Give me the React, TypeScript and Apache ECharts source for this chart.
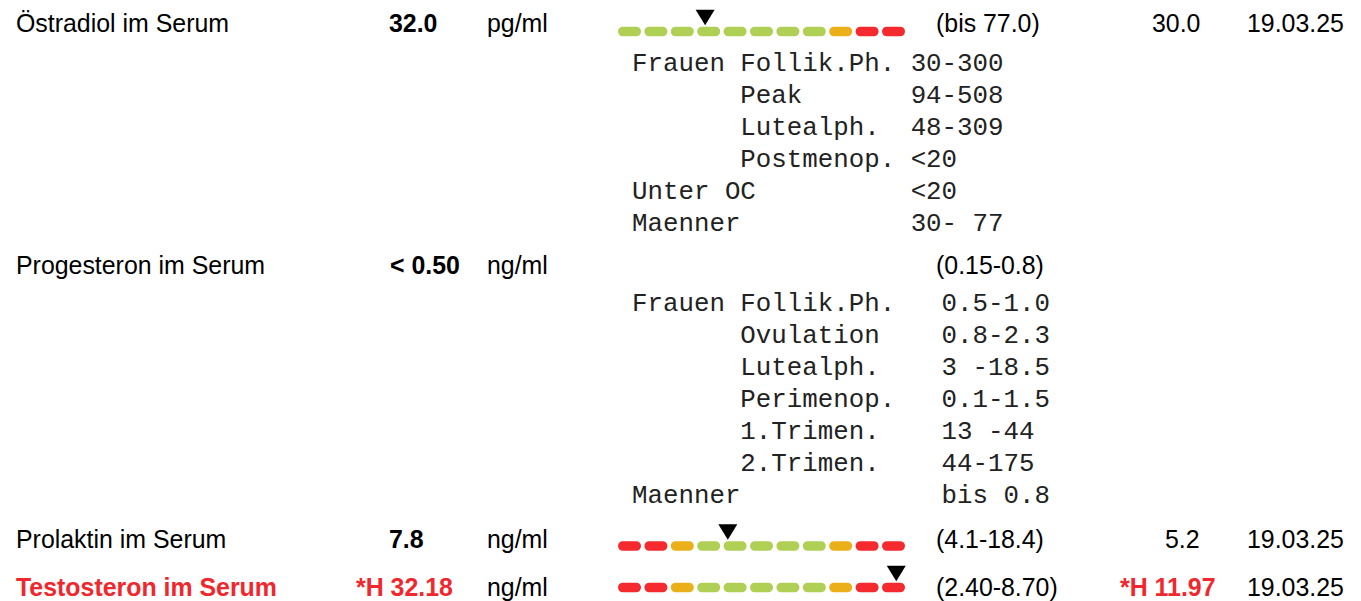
import React, { useEffect, useRef } from "react";
import * as echarts from "echarts";

// ---- data ----
const testNames = ["Östradiol im Serum", "Progesteron im Serum", "Prolaktin im Serum", "Testosteron im Serum"];
const results = ["32.0", "< 0.50", "7.8", "*H 32.18"];
const units = ["pg/ml", "ng/ml", "ng/ml", "ng/ml"];
const refRanges = ["(bis 77.0)", "(0.15-0.8)", "(4.1-18.4)", "(2.40-8.70)"];
const previousResults = ["30.0", "", "5.2", "*H 11.97"];
const previousDates = ["19.03.25", "", "19.03.25", "19.03.25"];
const flagged = [false, false, false, true];

const estradiolRefLines = [
  "Frauen Follik.Ph. 30-300",
  "       Peak       94-508",
  "       Lutealph.  48-309",
  "       Postmenop. <20",
  "Unter OC          <20",
  "Maenner           30- 77",
];
const progesteronRefLines = [
  "Frauen Follik.Ph.   0.5-1.0",
  "       Ovulation    0.8-2.3",
  "       Lutealph.    3 -18.5",
  "       Perimenop.   0.1-1.5",
  "       1.Trimen.    13 -44",
  "       2.Trimen.    44-175",
  "Maenner             bis 0.8",
];

// gauges: segment colour codes (G green, O orange, R red) and marker position in segment units
const estradiolSegments = ["G", "G", "G", "G", "G", "G", "G", "G", "O", "R", "R"];
const prolaktinSegments = ["R", "R", "O", "G", "G", "G", "G", "G", "O", "R", "R"];
const testosteronSegments = ["R", "R", "O", "G", "G", "G", "G", "G", "O", "R", "R"];
const markerPositions = [3.3, 4.16, 10.54];

// ---- styles / layout ----
const palette: Record<string, string> = { G: "#AFCF55", O: "#EBB019", R: "#F42A2E" };
const RED_TEXT = "#F0282D";
const SANS = '"Liberation Sans", Arial, Helvetica, sans-serif';
const MONO = '"Liberation Mono", "Courier New", monospace';
const SANS_SIZE = 24.9;
const MONO_SIZE = 25.8;
const CHAR_W = MONO_SIZE * 0.6;
const rowY = [23, 265, 539, 587];
const resultX = [389, 390, 389, 356];
const prevX = [1152, 0, 1165, 1120];
const monoX = 632;
const SEG_PITCH = 26.4;
const SEG_FILL = 23 / SEG_PITCH;
const SEG_H = 9.6;
const gaugeCenterY = [31.5, 546, 594];

function txt(x: number, y: number, text: string, opts: { bold?: boolean; color?: string; mono?: boolean } = {}) {
  const size = opts.mono ? MONO_SIZE : SANS_SIZE;
  const fam = opts.mono ? MONO : SANS;
  return {
    type: "text",
    x,
    y,
    silent: true,
    style: {
      text,
      fill: opts.color || "#000",
      font: `${opts.bold ? "bold " : ""}${size}px ${fam}`,
      textAlign: "left",
      textVerticalAlign: "middle",
      align: "left",
      verticalAlign: "middle",
    },
  };
}

function monoBlock(lines: string[], y0: number) {
  const out: any[] = [];
  lines.forEach((line, li) => {
    const re = /\S+/g;
    let m: RegExpExecArray | null;
    while ((m = re.exec(line))) {
      out.push(txt(monoX + m.index * CHAR_W, y0 + li * 32, m[0], { mono: true, color: "#222" }));
    }
  });
  return out;
}

export default function App() {
  const ref = useRef<HTMLDivElement>(null);
  useEffect(() => {
    document.body.style.margin = "0";
    if (!ref.current) return;
    const chart = echarts.init(ref.current, undefined, { renderer: "svg" });

    const graphic: any[] = [];
    testNames.forEach((name, i) => {
      const y = rowY[i];
      const red = flagged[i];
      graphic.push(txt(16, y, name, { bold: red, color: red ? RED_TEXT : "#000" }));
      graphic.push(txt(resultX[i], y, results[i], { bold: true, color: red ? RED_TEXT : "#000" }));
      graphic.push(txt(487, y, units[i]));
      graphic.push(txt(936, y, refRanges[i]));
      if (previousResults[i]) {
        const pr = previousResults[i].startsWith("*");
        graphic.push(txt(prevX[i], y, previousResults[i], { bold: pr, color: pr ? RED_TEXT : "#000" }));
      }
      if (previousDates[i]) graphic.push(txt(1247, y, previousDates[i]));
    });
    graphic.push(...monoBlock(estradiolRefLines, 64));
    graphic.push(...monoBlock(progesteronRefLines, 304));

    const segSets = [estradiolSegments, prolaktinSegments, testosteronSegments];
    const grids = segSets.map((_, g) => ({
      left: 618,
      width: SEG_PITCH * 11,
      top: gaugeCenterY[g] - 20,
      height: 40,
    }));
    const xAxes = segSets.map((_, g) => ({ type: "value", gridIndex: g, min: 0, max: 11, show: false }));
    const yAxes = segSets.map((_, g) => ({ type: "value", gridIndex: g, min: 0, max: 1, show: false }));
    const series: any[] = [];
    segSets.forEach((segs, g) => {
      series.push({
        type: "custom",
        xAxisIndex: g,
        yAxisIndex: g,
        silent: true,
        data: segs.map((c, i) => ({ value: [i, 0.5], itemStyle: { color: palette[c] } })),
        renderItem: (params: any, api: any) => {
          const i = api.value(0);
          const p0 = api.coord([i, api.value(1)]);
          const p1 = api.coord([i + SEG_FILL, api.value(1)]);
          return {
            type: "rect",
            shape: { x: p0[0], y: p0[1] - SEG_H / 2, width: p1[0] - p0[0], height: SEG_H, r: SEG_H / 2 },
            style: { fill: api.visual("color") },
          };
        },
      });
      series.push({
        type: "scatter",
        xAxisIndex: g,
        yAxisIndex: g,
        silent: true,
        symbol: "path://M0 0L20 0L10 16Z",
        symbolKeepAspect: false,
        symbolSize: [19, 15.5],
        symbolOffset: [0, -14],
        itemStyle: { color: "#000", opacity: 1 },
        data: [[markerPositions[g], 0.5]],
      });
    });

    chart.setOption({
      animation: false,
      backgroundColor: "#fff",
      grid: grids,
      xAxis: xAxes,
      yAxis: yAxes,
      series,
      graphic,
    });
    return () => chart.dispose();
  }, []);
  return <div ref={ref} style={{ width: 1361, height: 601 }} />;
}
